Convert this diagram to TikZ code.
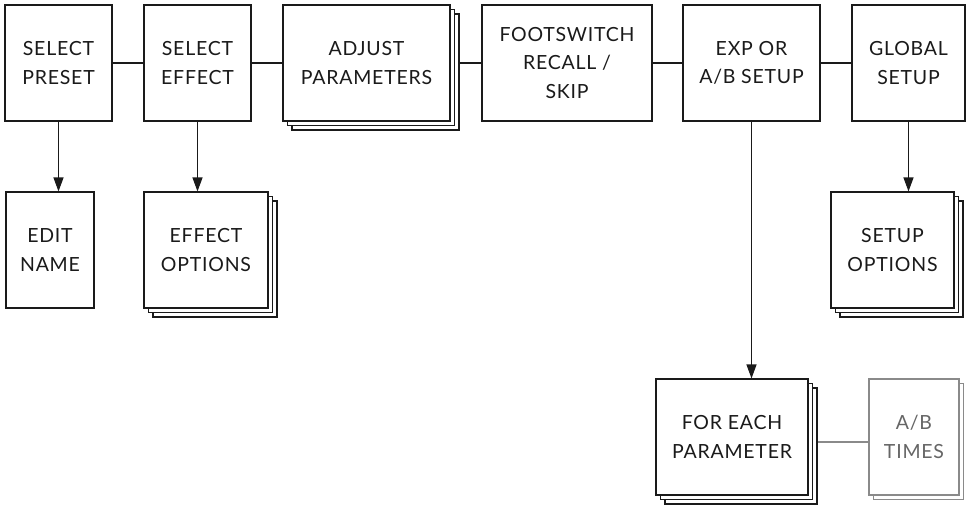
\documentclass[tikz,border=0pt]{standalone}
\usepackage{fontspec}
\setmainfont[LetterSpace=4]{Lato}
\usetikzlibrary{arrows.meta,shadows,backgrounds}
\definecolor{ink}{HTML}{1A1A1A}
\definecolor{soft}{HTML}{8A8A8A}
\definecolor{softtext}{HTML}{666666}
\tikzset{
  box/.style={draw=ink, line width=1.1pt, fill=white, inner sep=0pt, align=center,
    text=ink, font=\fontsize{19.5}{28.5}\selectfont, minimum height=116pt},
  stack3/.style={double copy shadow={shadow xshift=4.5pt, shadow yshift=-4.5pt}},
  stack2/.style={copy shadow={shadow xshift=4.5pt, shadow yshift=-4.5pt}},
  faint/.style={draw=soft, text=softtext},
  link/.style={draw=ink, line width=1.1pt},
  arr/.style={link, -{Triangle[length=14pt,width=10pt]}},
  softlink/.style={draw=soft, line width=1.1pt},
}
\begin{document}
\begin{tikzpicture}[x=1pt,y=-1pt]
\useasboundingbox (0,0) rectangle (971,509);
\node[box, minimum width=107pt] (sp) at (58.5,63) {SELECT\\PRESET};
\node[box, minimum width=107pt] (se) at (197.5,63) {SELECT\\EFFECT};
\node[box, stack3, minimum width=167pt] (ap) at (366.5,63) {ADJUST\\PARAMETERS};
\node[box, minimum width=170pt] (fs) at (567,63) {FOOTSWITCH\\RECALL /\\SKIP};
\node[box, minimum width=137pt] (ex) at (751.5,63) {EXP OR\\A/B SETUP};
\node[box, minimum width=113pt] (gs) at (908.5,63) {GLOBAL\\SETUP};
\node[box, minimum width=88pt] (en) at (50,250) {EDIT\\NAME};
\node[box, stack3, minimum width=124pt] (eo) at (206,250) {EFFECT\\OPTIONS};
\node[box, stack3, minimum width=123pt] (so) at (892.5,250) {SETUP\\OPTIONS};
\node[box, stack3, minimum width=152pt] (fe) at (732,437) {FOR EACH\\PARAMETER};
\node[box, faint, stack2, minimum width=90pt] (ab) at (914,437) {A/B\\TIMES};
\begin{scope}[on background layer]
\draw[link] (sp) -- (se);
\draw[link] (se) -- (ap);
\draw[link] (ap) -- (fs);
\draw[link] (fs) -- (ex);
\draw[link] (ex) -- (gs);
\draw[softlink] ([yshift=-5pt]fe.east) -- ([yshift=-5pt]ab.west);
\end{scope}
\draw[arr] (sp.south) -- (sp.south |- en.north);
\draw[arr] (se.south) -- (se.south |- eo.north);
\draw[arr] (ex.south) -- (ex.south |- fe.north);
\draw[arr] (gs.south) -- (gs.south |- so.north);
\end{tikzpicture}
\end{document}
